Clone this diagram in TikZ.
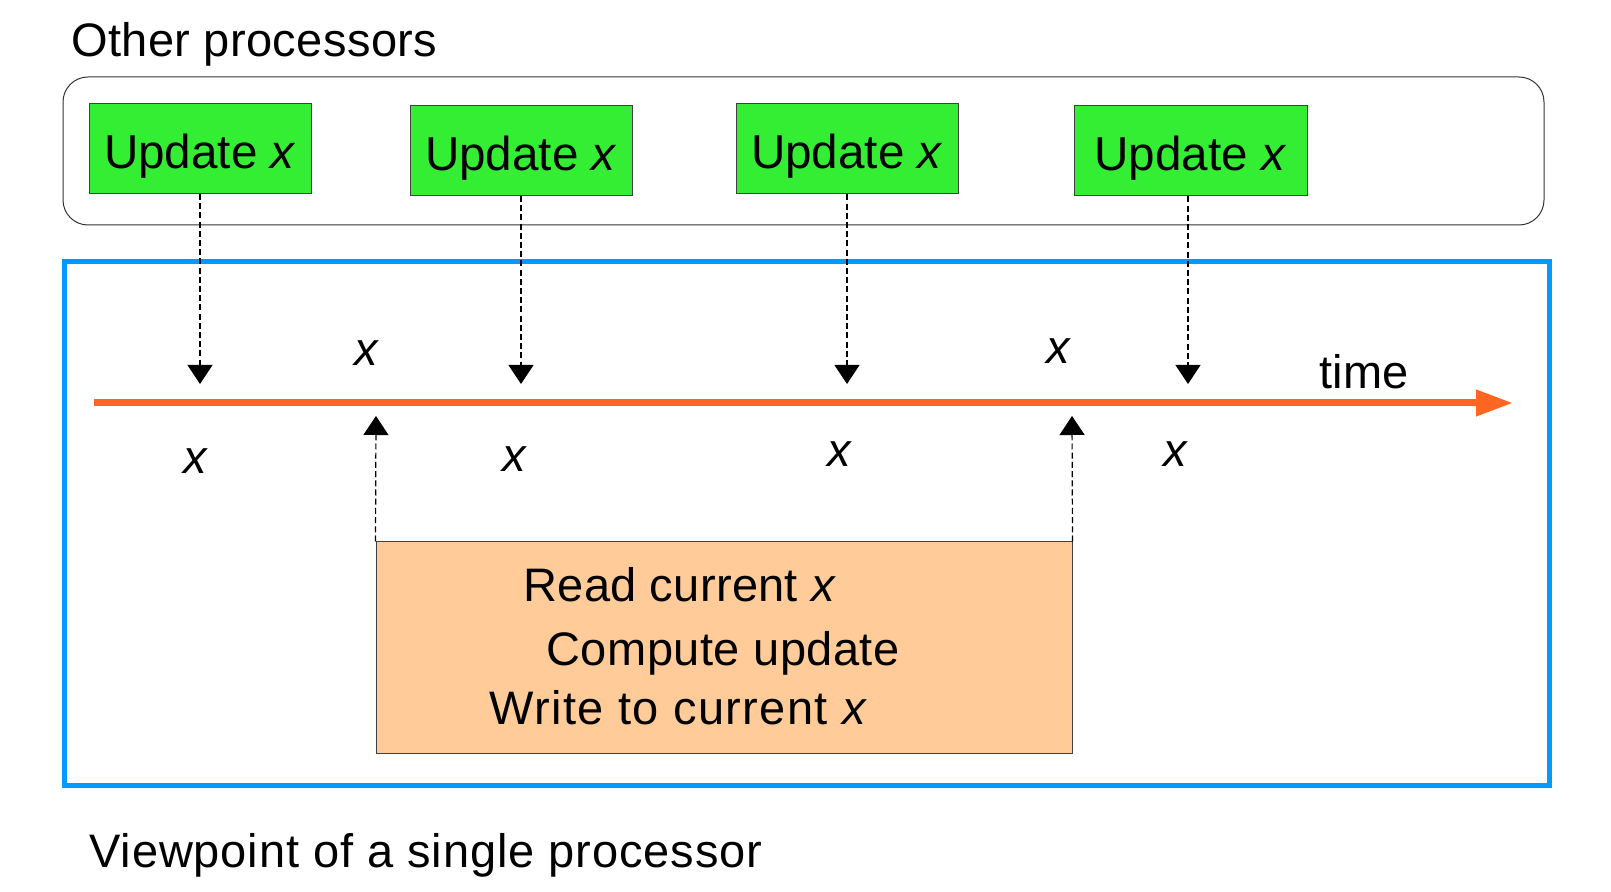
\documentclass[tikz,border=0pt]{standalone}
\usepackage{fontspec}
\setmainfont{Liberation Sans}
\usetikzlibrary{arrows.meta}
\definecolor{ugreen}{RGB}{51,238,51}
\definecolor{tline}{RGB}{255,102,34}
\definecolor{vblue}{RGB}{0,153,255}
\definecolor{wbox}{RGB}{255,204,153}
\begin{document}
\begin{tikzpicture}[x=0.5pt,y=-0.5pt,
  txt/.style={font=\fontsize{23.5}{28}\selectfont, inner sep=0pt, text=black},
  upd/.style={txt, font=\fontsize{23.8}{28}\selectfont, draw=black!75, fill=ugreen, line width=0.5pt, minimum width=111pt, minimum height=45pt, text height=23pt, text depth=3pt},
  dashlink/.style={draw=black, line width=0.6pt, dash pattern=on 3pt off 1.6pt, -{Triangle[width=12.5pt,length=9.5pt]}}
]
\useasboundingbox (0,0) rectangle (1611,892);

% Other processors frame
\node[txt, anchor=west, font=\fontsize{23.5}{28}\selectfont\addfontfeature{LetterSpace=0.8}] (otherlbl) at (71,44) {Other processors};
\node[draw=black!80, line width=0.5pt, rounded corners=12.5pt, minimum width=740.5pt, minimum height=74pt, inner sep=0pt] (others) at (803.5,151) {};

\node[upd] (u1) at (200,148.5) {Update \textit{x}};
\node[upd] (u2) at (521,150.5) {Update \textit{x}};
\node[upd] (u3) at (847,149) {Update \textit{x}};
\node[upd, minimum width=116.5pt] (u4) at (1190.5,151) {Update \textit{x}};

% Single processor frame
\node[draw=vblue, line width=2.5pt, minimum width=742.5pt, minimum height=261.5pt, inner sep=0pt] (single) at (806.5,523.5) {};
\node[txt, anchor=west, font=\fontsize{23.5}{28}\selectfont\addfontfeature{LetterSpace=1.9}] (viewlbl) at (89,855) {Viewpoint of a single processor};

% time line
\coordinate (tstart) at (94,403);
\coordinate (tend) at (1513,403);
\draw[tline, line width=3.5pt, -{Triangle[width=12.5pt,length=18.5pt]}] (tstart) -- (tend);
\node[txt] (timelbl) at (1364,372) {time};

% arrival points
\coordinate (d1) at (200,384);
\coordinate (d2) at (521,384);
\coordinate (d3) at (847,384);
\coordinate (d4) at (1188,384);
\draw[dashlink] (u1.south) -- (d1);
\draw[dashlink] (u2.south) -- (d2);
\draw[dashlink] (u3.south) -- (d3);
\draw[dashlink] (u4.south -| d4) -- (d4);

% x labels
\node[txt] (xa1) at (367,353) {\textit{x}};
\node[txt] (xa2) at (1059,351) {\textit{x}};
\node[txt] (xb1) at (196,461) {\textit{x}};
\node[txt] (xb2) at (515,459) {\textit{x}};
\node[txt] (xb3) at (840,454) {\textit{x}};
\node[txt] (xb4) at (1176,454) {\textit{x}};

% work box
\node[draw=black!75, fill=wbox, line width=0.5pt, minimum width=348pt, minimum height=105.5pt, inner sep=0pt] (work) at (724,647.5) {};
\node[txt, font=\fontsize{23.5}{28}\selectfont\addfontfeature{LetterSpace=0.6}] (read) at (680,585) {Read current \textit{x}};
\node[txt, font=\fontsize{23.5}{28}\selectfont\addfontfeature{LetterSpace=1}] (comp) at (723,653) {Compute update};
\node[txt, font=\fontsize{23.5}{28}\selectfont\addfontfeature{LetterSpace=3}] (write) at (679,708) {Write to current \textit{x}};

\coordinate (r1) at (376,416);
\coordinate (r2) at (1072,416);
\draw[dashlink] (work.north west) -- (r1);
\draw[dashlink] (work.north east) -- (r2);
\end{tikzpicture}
\end{document}
